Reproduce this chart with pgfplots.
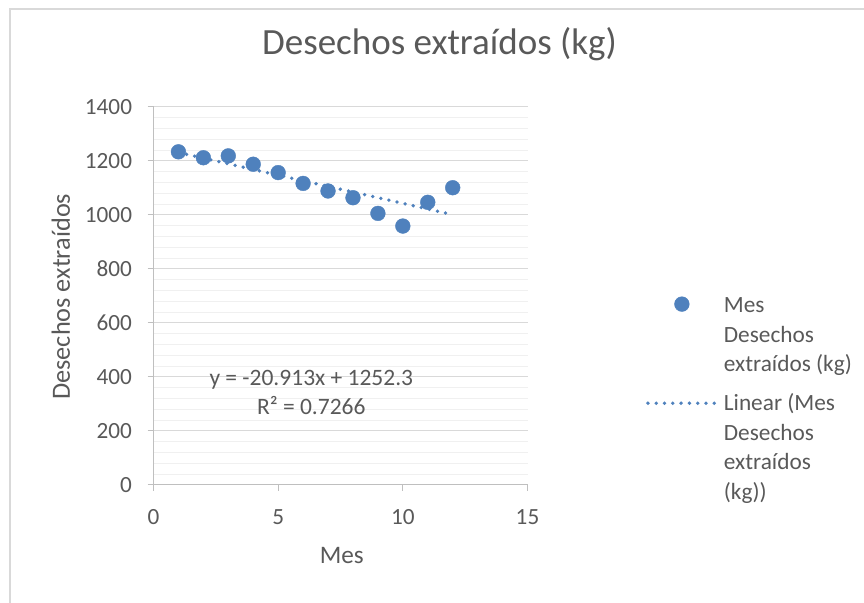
\documentclass[border=0pt]{standalone}
\usepackage{fontspec}
\setmainfont{Carlito}
\usepackage{pgfplots}
\pgfplotsset{compat=1.18}
\definecolor{txt}{RGB}{89,89,89}
\definecolor{ptc}{RGB}{79,129,189}
\definecolor{grmaj}{RGB}{217,217,217}
\definecolor{grmin}{RGB}{240,240,240}
\definecolor{axc}{RGB}{191,191,191}
\begin{document}
\begin{tikzpicture}
\path[use as bounding box] (0pt,0pt) rectangle (864pt,602pt);
\draw[color=grmaj, line width=1.5pt] (10pt,-5pt) -- (10pt,593pt) -- (870pt,593pt);
\begin{axis}[
  at={(153.5pt,117pt)}, anchor=south west,
  width=374pt, height=378pt, scale only axis,
  xmin=0, xmax=15, ymin=0, ymax=1400,
  xtick={0,5,10,15}, ytick={0,200,...,1400},
  minor y tick num=4,
  ymajorgrids, yminorgrids,
  major grid style={color=grmaj, line width=1pt},
  minor grid style={color=grmin, line width=1pt},
  axis lines*=left,
  axis line style={color=axc, line width=1pt},
  tick style={color=axc, line width=1pt},
  tick align=outside, major tick length=6pt, minor tick length=0pt,
  /pgf/number format/1000 sep={},
  /pgf/number format/assume math mode=true,
  ticklabel style={font=\fontsize{23.2}{28}\selectfont, text=txt, inner sep=0pt},
  xticklabel style={anchor=base, yshift=-33.3pt},
  yticklabel style={anchor=east, xshift=-15.3pt},
  xlabel={Mes}, ylabel={Desechos extraídos},
  xlabel style={at={(axis description cs:0.5035,-0.2071)}, anchor=base, font=\fontsize{25.2}{30}\selectfont, text=txt},
  ylabel style={at={(axis description cs:-0.2233,0.498)}, anchor=base, rotate=0, font=\fontsize{26.3}{30}\selectfont, text=txt},
  title={Desechos extraídos (kg)},
  title style={at={(axis description cs:0.7647,1.1225)}, anchor=base, yshift=0pt, font=\fontsize{37}{42}\selectfont, text=txt},
  legend style={draw=none, fill=none, inner sep=0pt, outer sep=0pt,
    at={(axis description cs:1.3168,0.4981)}, anchor=north west,
    nodes={align=left, inner sep=0pt, outer sep=0pt, text=txt, font=\fontsize{23.3}{29.8}\selectfont},
    row sep=19.8pt, column sep=6.1pt},
  legend cell align=left,
]
\addplot[only marks, mark=*, mark size=7.4pt, mark options={fill=ptc, draw=ptc},
  legend image code/.code={\draw[mark repeat=1] plot coordinates {(34pt,31.3pt)};}]
  coordinates {(1,1234)(2,1212)(3,1219)(4,1188)(5,1157)(6,1117)(7,1089)(8,1064)(9,1006)(10,959)(11,1047)(12,1101)};
\addlegendentry{Mes\\Desechos\\extraídos (kg)}
\addplot[no marks, color=ptc, line width=3.8pt, line cap=round, dash pattern=on 0pt off 8.3pt,
  legend image code/.code={\draw (0pt,44pt) -- (68pt,44pt);}]
  coordinates {(1,1231.4)(12,1001.3)};
\addlegendentry{Linear (Mes\\Desechos\\extraídos\\(kg))}
\node[anchor=base, inner sep=0pt, font=\fontsize{23.5}{28}\selectfont, text=txt] at (axis cs:6.33,366.7) {y = -20.913x + 1252.3};
\node[anchor=base, inner sep=0pt, font=\fontsize{23.5}{28}\selectfont, text=txt] at (axis cs:6.33,259.3) {R² = 0.7266};
\end{axis}
\end{tikzpicture}
\end{document}
